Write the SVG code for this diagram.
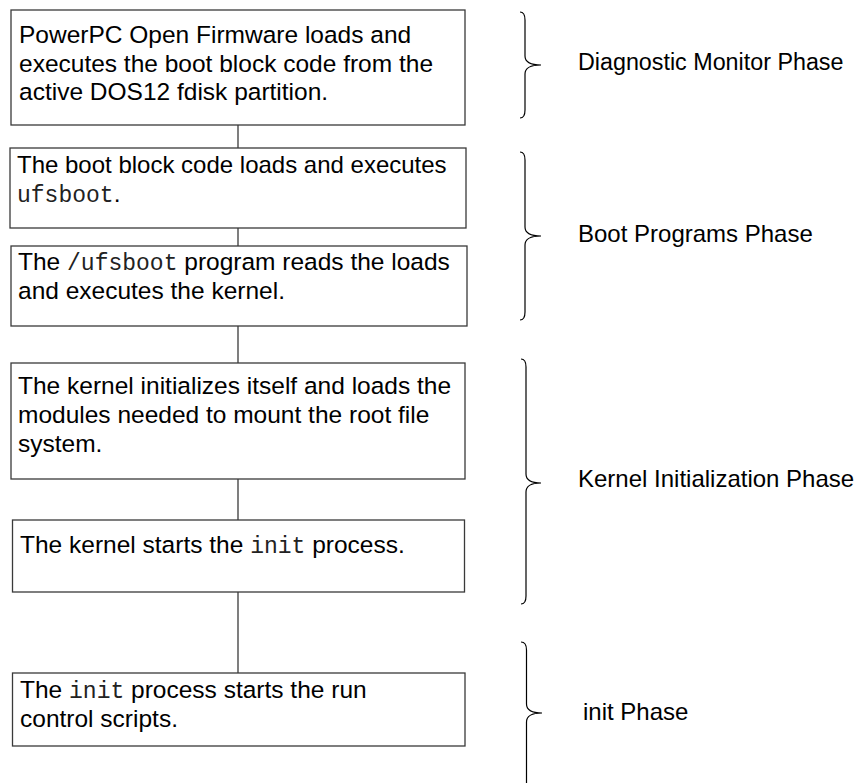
<svg xmlns="http://www.w3.org/2000/svg" width="864" height="783" viewBox="0 0 864 783">
  <style>
    .box { fill: #ffffff; stroke: #3a3a3a; stroke-width: 1.3; }
    .link { stroke: #3a3a3a; stroke-width: 1.3; fill: none; }
    .brace { stroke: #000000; stroke-width: 1.2; fill: none; }
    .t { font-family: "Liberation Sans", Arial, sans-serif; font-size: 24.5px; fill: #000000; }
    .lbl { font-family: "Liberation Sans", Arial, sans-serif; font-size: 24px; fill: #000000; }
    .m { font-family: "Liberation Mono", "Courier New", monospace; font-size: 23px; fill: #222222; }
  </style>
  <rect width="864" height="783" fill="#ffffff"/>

  <!-- vertical connectors between steps -->
  <g id="connectors">
    <line class="link" x1="238" y1="125" x2="238" y2="148"/>
    <line class="link" x1="238" y1="228" x2="238" y2="246"/>
    <line class="link" x1="238" y1="326" x2="238" y2="363"/>
    <line class="link" x1="238" y1="479" x2="238" y2="520"/>
    <line class="link" x1="238" y1="592" x2="238" y2="673"/>
  </g>

  <g id="step-firmware">
    <rect class="box" x="11" y="10" width="454" height="115"/>
    <text class="t" x="19" y="43">PowerPC Open Firmware loads and</text>
    <text class="t" x="19" y="72">executes the boot block code from the</text>
    <text class="t" x="19" y="100">active DOS12 fdisk partition.</text>
  </g>

  <g id="step-bootblock">
    <rect class="box" x="10" y="148" width="456" height="80"/>
    <text class="t" x="17" y="173" style="font-size:24px">The boot block code loads and executes</text>
    <text class="t" x="17" y="202"><tspan class="m">ufsboot</tspan>.</text>
  </g>

  <g id="step-ufsboot">
    <rect class="box" x="11" y="246" width="456" height="80"/>
    <text class="t" x="18" y="270">The <tspan class="m">/ufsboot</tspan> program reads the loads</text>
    <text class="t" x="18" y="299">and executes the kernel.</text>
  </g>

  <g id="step-kernel-init">
    <rect class="box" x="11" y="363" width="454" height="116"/>
    <text class="t" x="18" y="394">The kernel initializes itself and loads the</text>
    <text class="t" x="18" y="423">modules needed to mount the root file</text>
    <text class="t" x="18" y="452">system.</text>
  </g>

  <g id="step-kernel-start">
    <rect class="box" x="12.5" y="520" width="452" height="72"/>
    <text class="t" x="20" y="553">The kernel starts the <tspan class="m">init</tspan> process.</text>
  </g>

  <g id="step-init">
    <rect class="box" x="12.5" y="673" width="452.5" height="73"/>
    <text class="t" x="20" y="698">The <tspan class="m">init</tspan> process starts the run</text>
    <text class="t" x="20" y="727">control scripts.</text>
  </g>

  <!-- phase braces and labels -->
  <g id="phase-diagnostic">
    <path class="brace" d="M520,12 Q525,12 525,20 L525,56 Q525,65 541,65 Q525,65 525,74 L525,110 Q525,118 520,118"/>
    <text class="lbl" x="578" y="70" style="font-size:23.3px">Diagnostic Monitor Phase</text>
  </g>

  <g id="phase-boot">
    <path class="brace" d="M520,152 Q525,152 525,160 L525,227 Q525,236 541,236 Q525,236 525,245 L525,312 Q525,320 520,320"/>
    <text class="lbl" x="578" y="242">Boot Programs Phase</text>
  </g>

  <g id="phase-kernel">
    <path class="brace" d="M521,359 Q526,359 526,367 L526,474 Q526,483 541,483 Q526,483 526,492 L526,596 Q526,604 521,604"/>
    <text class="lbl" x="578" y="487">Kernel Initialization Phase</text>
  </g>

  <g id="phase-init">
    <path class="brace" d="M521,642 Q526.5,642 526.5,650 L526.5,704 Q526.5,713 542,713 Q526.5,713 526.5,722 L526.5,790"/>
    <text class="lbl" x="583" y="720">init Phase</text>
  </g>
</svg>
